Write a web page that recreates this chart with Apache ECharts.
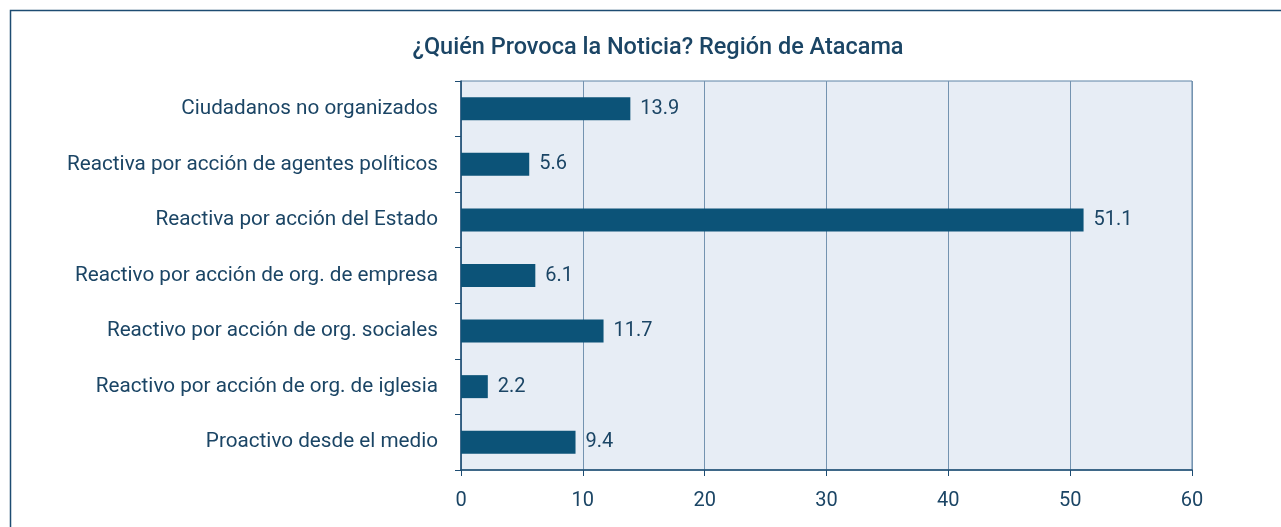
<!DOCTYPE html>
<html>
<head>
<meta charset="utf-8">
<script src="https://cdn.jsdelivr.net/npm/echarts@6/dist/echarts.min.js"></script>
<style>
  html, body { margin: 0; padding: 0; background: #fff; }
  #chart { width: 1281px; height: 527px; }
</style>
</head>
<body>
<div id="chart"></div>
<script>
// categorias (de arriba hacia abajo)
var categorias = [
  'Ciudadanos no organizados',
  'Reactiva por acción de agentes políticos',
  'Reactiva por acción del Estado',
  'Reactivo por acción de org. de empresa',
  'Reactivo por acción de org. sociales',
  'Reactivo por acción de org. de iglesia',
  'Proactivo desde el medio'
];
var valores = [13.9, 5.6, 51.1, 6.1, 11.7, 2.2, 9.4];
var ejeX = [0, 10, 20, 30, 40, 50, 60];

var textColor = '#1b4565';
var fuente = 'Roboto';

var chart = echarts.init(document.getElementById('chart'));
chart.setOption({
  animation: false,
  textStyle: { fontFamily: fuente },
  title: {
    text: '¿Quién Provoca la Noticia? Región de Atacama',
    left: 653,
    textAlign: 'center',
    top: 31,
    textStyle: { color: textColor, fontSize: 23.5, fontWeight: 500, fontFamily: fuente }
  },
  graphic: [{
    type: 'rect',
    shape: { x: 10.5, y: 10.5, width: 1400, height: 700 },
    style: { fill: 'none', stroke: '#1d4c72', lineWidth: 1.5 },
    silent: true
  }],
  grid: {
    left: 461, right: 89, top: 81, bottom: 57,
    show: true,
    backgroundColor: '#e7edf5',
    borderColor: '#5f84a6',
    borderWidth: 1
  },
  xAxis: {
    type: 'value',
    min: ejeX[0],
    max: ejeX[ejeX.length - 1],
    interval: 10,
    axisLine: { show: true, lineStyle: { color: '#1d4c72', width: 1.5 } },
    axisTick: { show: true, length: 6, lineStyle: { color: '#1d4c72' } },
    axisLabel: { color: textColor, fontSize: 20, margin: 21 },
    splitLine: { show: true, lineStyle: { color: '#7493b0', width: 1 } }
  },
  yAxis: {
    type: 'category',
    inverse: true,
    data: categorias,
    axisLine: { show: true, lineStyle: { color: '#1d4c72', width: 1.5 } },
    axisTick: { show: true, length: 6, lineStyle: { color: '#1d4c72' } },
    axisLabel: { color: textColor, fontSize: 20.7, margin: 23 },
    splitLine: { show: false }
  },
  series: [{
    type: 'bar',
    data: valores,
    barWidth: 23,
    itemStyle: { color: '#0c5378' },
    label: {
      show: true,
      position: 'right',
      distance: 10,
      color: textColor,
      fontSize: 20,
      formatter: function (p) { return p.value.toFixed(1); }
    }
  }]
});
</script>
</body>
</html>
